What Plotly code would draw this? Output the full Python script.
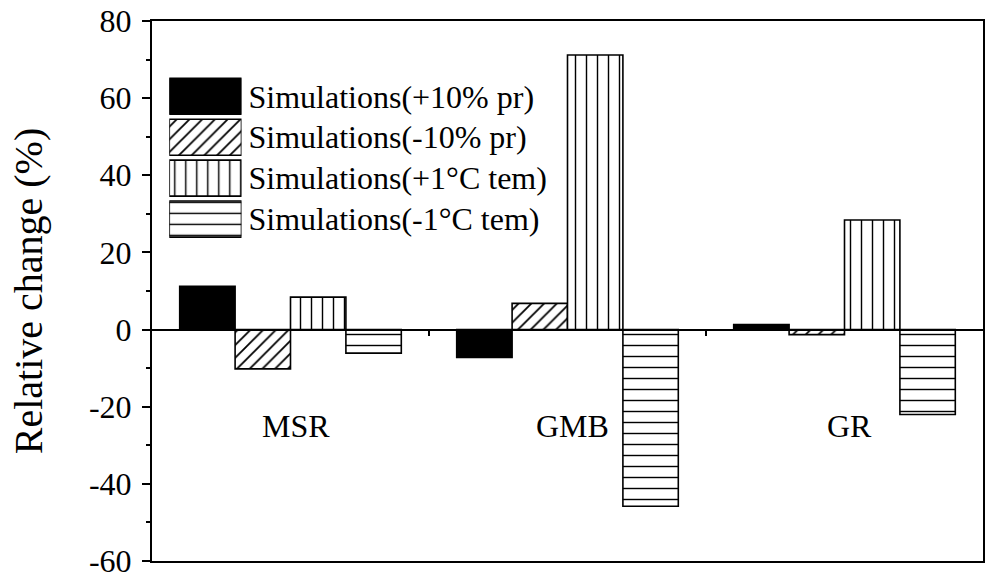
import plotly.graph_objects as go

# ---------------- data ----------------
categories = ["MSR", "GMB", "GR"]
series_names = ["Simulations(+10% pr)", "Simulations(-10% pr)",
                "Simulations(+1°C tem)", "Simulations(-1°C tem)"]
plus_pr = [11.2, -7.2, 1.3]
minus_pr = [-10.2, 6.8, -1.3]
plus_tem = [8.4, 71.2, 28.4]
minus_tem = [-6.1, -45.8, -22.0]
y_tick_vals = [-60, -40, -20, 0, 20, 40, 60, 80]
y_tick_text = ["-60", "-40", "-20", "0", "20", "40", "60", "80"]
boundary_ticks = [0.5, 1.5]
label_y = -25

series_values = [plus_pr, minus_pr, plus_tem, minus_tem]

# ---------------- styles ----------------
FONT = "Liberation Serif"
fill_colors = ["black", "white", "white", "white"]
pat_shapes = ["", "/", "|", "-"]
pat_sizes = [9, 9, 11, 11]
pat_solid = [0.12, 0.2, 0.13, 0.13]


def marker_for(col, shp, sz, so):
    return dict(color=col, line=dict(color="black", width=1.6),
                pattern=dict(shape=shp, size=sz, solidity=so, fgcolor="black",
                             fgopacity=1, bgcolor=col, fillmode="replace"))


fig = go.Figure()

for name, vals, col, shp, sz, so in zip(series_names, series_values, fill_colors,
                                         pat_shapes, pat_sizes, pat_solid):
    fig.add_trace(go.Bar(x=categories, y=vals, name=name, showlegend=False,
                         marker=marker_for(col, shp, sz, so)))

# custom legend drawn as a small bar subplot (one swatch per series)
for name, col, shp, sz, so in zip(series_names, fill_colors, pat_shapes,
                                  pat_sizes, pat_solid):
    fig.add_trace(go.Bar(x=[1], y=[name], orientation="h", xaxis="x3", yaxis="y3",
                         showlegend=False, width=0.88, offset=-0.44,
                         marker=marker_for(col, shp, sz, so)))

# dummy trace for the zero-level axis
fig.add_trace(go.Scatter(x=[None], y=[None], xaxis="x2", yaxis="y",
                         showlegend=False, hoverinfo="skip"))

for c in categories:
    fig.add_annotation(x=c, y=label_y, xref="x", yref="y", text=c, showarrow=False,
                       xshift=5, font=dict(family=FONT, size=32, color="black"))

fig.update_layout(
    width=988, height=582,
    margin=dict(l=152, r=3, t=21, b=19),
    paper_bgcolor="white", plot_bgcolor="white",
    barmode="group", bargap=0.2, bargroupgap=0,
    showlegend=False,
    font=dict(family=FONT, color="black"),
    xaxis=dict(type="category", range=[-0.5, 2.5], showline=True, mirror=True,
               linecolor="black", linewidth=1.6, ticks="", showticklabels=False,
               showgrid=False, zeroline=False),
    xaxis2=dict(overlaying="x", anchor="free", position=60 / 140, type="linear",
                range=[-0.5, 2.5], tickvals=boundary_ticks, ticks="outside",
                ticklen=5, tickwidth=2, tickcolor="black", showline=True,
                linecolor="black", linewidth=2, showticklabels=False,
                showgrid=False, zeroline=False),
    yaxis=dict(range=[-60, 80], tickvals=y_tick_vals, ticktext=y_tick_text,
               ticks="outside", ticklen=8, tickwidth=2, tickcolor="black",
               minor=dict(dtick=10, ticks="outside", ticklen=4, tickwidth=2,
                          tickcolor="black", showgrid=False),
               showline=True, mirror=True, linecolor="black", linewidth=2,
               showgrid=False, zeroline=False,
               tickfont=dict(family=FONT, size=32, color="black"),
               ticklabelstandoff=4,
               title=dict(text="Relative change (%)", standoff=34,
                          font=dict(family=FONT, size=40, color="black"))),
    xaxis3=dict(domain=[0.0208, 0.1077], range=[0, 1], anchor="y3", visible=False),
    yaxis3=dict(domain=[0.5953, 0.8984], anchor="x3", type="category",
                categoryorder="array", categoryarray=series_names,
                range=[3.5, -0.5], side="right", showline=False, ticks="",
                showgrid=False, zeroline=False, ticklabelstandoff=6,
                tickfont=dict(family=FONT, size=32, color="black")),
)

fig.write_html("out.html")
